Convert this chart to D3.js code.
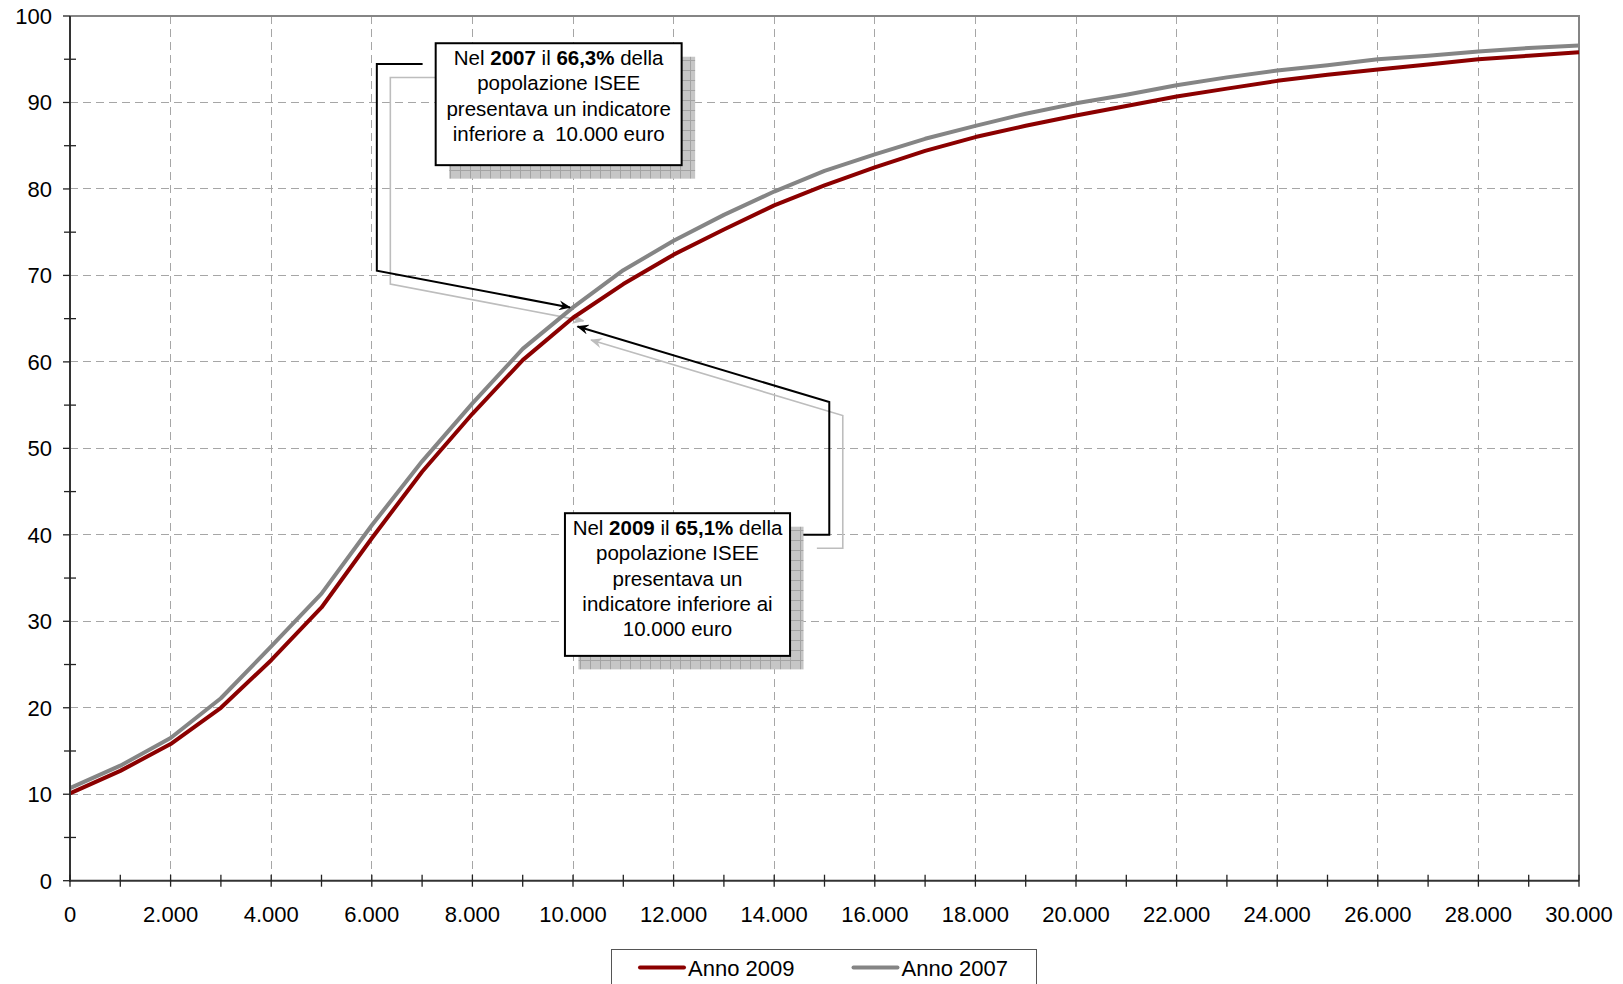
<!DOCTYPE html>
<html>
<head>
<meta charset="utf-8">
<script src="https://cdn.jsdelivr.net/npm/d3@7"></script>
<style>
  html, body { margin: 0; padding: 0; background: #fff; }
  svg { display: block; font-family: "Liberation Sans", Arial, sans-serif; }
</style>
</head>
<body>
<svg id="chart" width="1623" height="984"></svg>
<script>
// ---- data ----
const redditoISEE = [0,1000,2000,3000,4000,5000,6000,7000,8000,9000,10000,11000,12000,13000,14000,15000,16000,17000,18000,19000,20000,21000,22000,23000,24000,25000,26000,27000,28000,29000,30000];
const anno2009 = [10.1,12.7,15.8,20.0,25.5,31.6,39.6,47.3,54.0,60.2,65.1,69.0,72.4,75.3,78.1,80.4,82.5,84.4,86.0,87.3,88.5,89.6,90.7,91.6,92.5,93.2,93.8,94.4,95.0,95.4,95.8];
const anno2007 = [10.7,13.3,16.5,21.1,27.1,33.2,41.1,48.5,55.2,61.5,66.3,70.6,74.0,77.0,79.7,82.1,84.0,85.8,87.3,88.7,89.9,90.9,92.0,92.9,93.7,94.3,95.0,95.4,95.9,96.3,96.6];
const seriesNames = ["Anno 2009", "Anno 2007"];
const xTicks = [0,2000,4000,6000,8000,10000,12000,14000,16000,18000,20000,22000,24000,26000,28000,30000];
const yTicks = [0,10,20,30,40,50,60,70,80,90,100];

const note2007 = [
  [["Nel ",false],["2007",true],[" il ",false],["66,3%",true],[" della",false]],
  [["popolazione ISEE",false]],
  [["presentava un indicatore",false]],
  [["inferiore a  10.000 euro",false]]
];
const note2009 = [
  [["Nel ",false],["2009",true],[" il ",false],["65,1%",true],[" della",false]],
  [["popolazione ISEE",false]],
  [["presentava un",false]],
  [["indicatore inferiore ai",false]],
  [["10.000 euro",false]]
];

// ---- layout ----
const svg = d3.select("#chart");
const L = 70, R = 1579, T = 16, B = 880.7;
const x = d3.scaleLinear().domain([0, 30000]).range([L, R]);
const y = d3.scaleLinear().domain([0, 100]).range([B, T]);
const it = d3.formatLocale({decimal: ",", thousands: ".", grouping: [3], currency: ["", "€"]});
const fmt = it.format(",d");

const colors = ["#8b0000", "#858585"];

// shadow pattern
const defs = svg.append("defs");
const pat = defs.append("pattern").attr("id", "shade").attr("patternUnits", "userSpaceOnUse")
  .attr("width", 10).attr("height", 10);
pat.append("rect").attr("width", 10).attr("height", 10).attr("fill", "#c6c6c6");
pat.append("path").attr("d", "M0,0.5H10M0.5,0V10").attr("stroke", "#a3a3a3").attr("stroke-width", 1);

function marker(id, color) {
  defs.append("marker").attr("id", id).attr("viewBox", "0 0 12 10")
    .attr("refX", 11).attr("refY", 5).attr("markerWidth", 12).attr("markerHeight", 10)
    .attr("markerUnits", "userSpaceOnUse").attr("orient", "auto")
    .append("path").attr("d", "M0,0 L12,5 L0,10 L4,5 Z").attr("fill", color);
}
marker("arrBlack", "#000");
marker("arrGray", "#bdbdbd");

// gridlines
const grid = svg.append("g").attr("stroke", "#a6a6a6").attr("stroke-width", 1)
  .attr("stroke-dasharray", "8,5").attr("shape-rendering", "crispEdges");
grid.selectAll("line.v").data(xTicks.filter(d => d > 0 && d < 30000)).enter().append("line")
  .attr("x1", d => x(d)).attr("x2", d => x(d)).attr("y1", T).attr("y2", B);
grid.selectAll("line.h").data(yTicks.filter(d => d > 0 && d < 100)).enter().append("line")
  .attr("x1", L).attr("x2", R).attr("y1", d => y(d)).attr("y2", d => y(d));

// top & right border
svg.append("path").attr("d", `M${L},${T}H${R}V${B}`).attr("fill", "none")
  .attr("stroke", "#858585").attr("stroke-width", 2);

// ---- annotations (data-unit anchors) ----
const shadowOff = 13.5;
const ann = [
  {lines: note2007, box: [7270, 12160, 96.85, 82.75],
   path: [[7010, 94.45], [6100, 94.45], [6100, 70.55], [9940, 66.3]]},
  {lines: note2009, box: [9840, 14315, 42.5, 26.0],
   path: [[14580, 40.0], [15095, 40.0], [15095, 55.35], [10090, 64.1]]}
];
const lineGen = d3.line().x(d => x(d[0])).y(d => y(d[1]));

const annG = svg.append("g");
// gray connector shadows
ann.forEach(a => {
  annG.append("path").attr("d", lineGen(a.path)).attr("fill", "none")
    .attr("stroke", "#bdbdbd").attr("stroke-width", 1.6)
    .attr("transform", `translate(${shadowOff},${shadowOff})`)
    .attr("marker-end", "url(#arrGray)");
});

// series lines
const series = [anno2009, anno2007];
const lg = svg.append("g").attr("fill", "none").attr("stroke-width", 4).attr("stroke-linejoin", "round");
series.forEach((s, i) => {
  lg.append("path").datum(redditoISEE.map((v, j) => [v, s[j]]))
    .attr("d", lineGen).attr("stroke", colors[i]);
});

// boxes, shadows, black connectors
ann.forEach(a => {
  const bx0 = x(a.box[0]), bx1 = x(a.box[1]), by0 = y(a.box[2]), by1 = y(a.box[3]);
  annG.append("rect").attr("x", bx0 + shadowOff).attr("y", by0 + shadowOff)
    .attr("width", bx1 - bx0).attr("height", by1 - by0).attr("fill", "url(#shade)");
});
const annTop = svg.append("g");
ann.forEach(a => {
  const bx0 = x(a.box[0]), bx1 = x(a.box[1]), by0 = y(a.box[2]), by1 = y(a.box[3]);
  annTop.append("path").attr("d", lineGen(a.path)).attr("fill", "none")
    .attr("stroke", "#000").attr("stroke-width", 2)
    .attr("marker-end", "url(#arrBlack)");
  annTop.append("rect").attr("x", bx0).attr("y", by0)
    .attr("width", bx1 - bx0).attr("height", by1 - by0)
    .attr("fill", "#fff").attr("stroke", "#000").attr("stroke-width", 2);
  const cx = (bx0 + bx1) / 2;
  const t = annTop.append("text").attr("text-anchor", "middle").attr("font-size", 20.5)
    .attr("fill", "#000").style("white-space", "pre");
  a.lines.forEach((ln, k) => {
    const tl = t.append("tspan").attr("x", cx).attr("y", by0 + 22 + k * 25.2);
    ln.forEach(([txt, bold]) => {
      tl.append("tspan").attr("font-weight", bold ? "bold" : "normal").text(txt);
    });
  });
});

// ---- axes ----
const axG = svg.append("g").attr("stroke", "#333").attr("stroke-width", 2);
axG.append("line").attr("x1", L).attr("x2", L).attr("y1", T).attr("y2", B + 1);
axG.append("line").attr("x1", L - 1).attr("x2", R).attr("y1", B).attr("y2", B);

const yMinor = d3.range(5, 100, 10);
svg.append("g").attr("stroke", "#222").attr("stroke-width", 1.3)
  .selectAll("line").data(yTicks).enter().append("line")
  .attr("x1", L - 7).attr("x2", L).attr("y1", d => y(d)).attr("y2", d => y(d));
svg.append("g").attr("stroke", "#222").attr("stroke-width", 1.3)
  .selectAll("line").data(yMinor).enter().append("line")
  .attr("x1", L - 6).attr("x2", L + 6).attr("y1", d => y(d)).attr("y2", d => y(d));
svg.append("g").attr("stroke", "#222").attr("stroke-width", 1.3)
  .selectAll("line").data(redditoISEE).enter().append("line")
  .attr("x1", d => x(d)).attr("x2", d => x(d)).attr("y1", B - 6).attr("y2", B + 6);

svg.append("g").attr("font-size", 22).attr("fill", "#000").attr("text-anchor", "end")
  .selectAll("text").data(yTicks).enter().append("text")
  .attr("x", 52).attr("y", d => y(d)).attr("dy", "0.36em").text(d => d);
svg.append("g").attr("font-size", 22).attr("fill", "#000").attr("text-anchor", "middle")
  .selectAll("text").data(xTicks).enter().append("text")
  .attr("x", d => x(d)).attr("y", 921.5).text(d => fmt(d));

// ---- legend ----
const leg = svg.append("g");
leg.append("rect").attr("x", 611.5).attr("y", 949.5).attr("width", 425).attr("height", 60)
  .attr("fill", "#fff").attr("stroke", "#555").attr("stroke-width", 1);
const legX = [640, 853.5];
seriesNames.forEach((n, i) => {
  leg.append("line").attr("x1", legX[i]).attr("x2", legX[i] + 44).attr("y1", 967.5).attr("y2", 967.5)
    .attr("stroke", colors[i]).attr("stroke-width", 4).attr("stroke-linecap", "round");
  leg.append("text").attr("x", legX[i] + 48).attr("y", 975.5).attr("font-size", 22)
    .attr("fill", "#000").text(n);
});
</script>
</body>
</html>
